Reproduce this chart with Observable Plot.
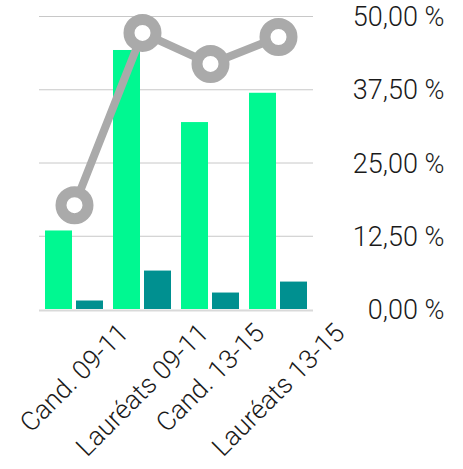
<!DOCTYPE html>
<html>
<head>
<meta charset="utf-8">
<script src="https://cdn.jsdelivr.net/npm/d3@7"></script>
<script src="https://cdn.jsdelivr.net/npm/@observablehq/plot@0.6"></script>
<style>
  html, body { margin: 0; padding: 0; background: #ffffff; }
</style>
</head>
<body>
<div id="chart"></div>
<script>
const categories = ["Cand. 09-11", "Lauréats 09-11", "Cand. 13-15", "Lauréats 13-15"];
const seriesGreen = [13.4, 44.2, 31.9, 36.9];
const seriesTeal = [1.45, 6.56, 2.81, 4.68];
const lineValues = [17.8, 47.2, 41.9, 46.5];
const yTicks = [0, 12.5, 25, 37.5, 50];
const yTickLabels = ["0,00 %", "12,50 %", "25,00 %", "37,50 %", "50,00 %"];

const FONT = "Roboto, 'Liberation Sans', sans-serif";
const X_FONT_SIZE = 26.5;
const Y_FONT_SIZE = 27;
const FONT_WEIGHT = 300;

const rows = categories.map((c, i) => ({cat: c, green: seriesGreen[i], teal: seriesTeal[i], line: lineValues[i]}));

// measure label lengths with the same SVG text rendering
const tmp = d3.select("body").append("svg").attr("width", 10).attr("height", 10)
  .style("position", "absolute").style("visibility", "hidden");
function textLength(s) {
  const t = tmp.append("text")
    .style("font-family", FONT).style("font-size", X_FONT_SIZE + "px").style("font-weight", FONT_WEIGHT)
    .text(s);
  const w = t.node().getComputedTextLength();
  t.remove();
  return w;
}
const labelLengths = categories.map(textLength);
tmp.remove();

const labelMarks = categories.map((c, i) => Plot.text([c], {
  x: d => d,
  text: d => d,
  frameAnchor: "bottom",
  rotate: -45,
  textAnchor: "middle",
  fill: "#1a1a1a",
  fontSize: X_FONT_SIZE,
  dx: 6,
  dy: 25 + 0.3536 * labelLengths[i]
}));

const chart = Plot.plot({
  width: 463,
  height: 469,
  marginTop: 16,
  marginBottom: 160,
  marginLeft: 39,
  marginRight: 150,
  style: {fontFamily: FONT, fontSize: X_FONT_SIZE + "px", fontWeight: FONT_WEIGHT, background: "#ffffff", overflow: "visible"},
  x: {domain: categories, range: [44, 309], paddingInner: 0.14, paddingOuter: 0, axis: null},
  y: {domain: [0, 50], axis: null},
  marks: [
    Plot.ruleY(yTicks.slice(1), {stroke: "#c8c8c8", strokeWidth: 1}),
    Plot.barY(rows, {x: "cat", y: "green", fill: "#00f891", insetRight: 31}),
    Plot.barY(rows, {x: "cat", y: "teal", fill: "#009090", insetLeft: 31}),
    Plot.ruleY([0], {stroke: "#d9d9d9", strokeWidth: 2, dy: 1}),
    Plot.line(rows, {x: "cat", y: "line", stroke: "#aaaaaa", strokeWidth: 8}),
    Plot.dot(rows, {x: "cat", y: "line", r: 13.5, stroke: "#aaaaaa", strokeWidth: 11, fill: "#ffffff"}),
    Plot.text(yTicks, {y: d => d, text: (d, i) => yTickLabels[i], frameAnchor: "right", textAnchor: "end", dx: 131, dy: 1, fontSize: Y_FONT_SIZE, fill: "#1a1a1a"}),
    ...labelMarks
  ]
});
document.getElementById("chart").appendChild(chart);
</script>
</body>
</html>
